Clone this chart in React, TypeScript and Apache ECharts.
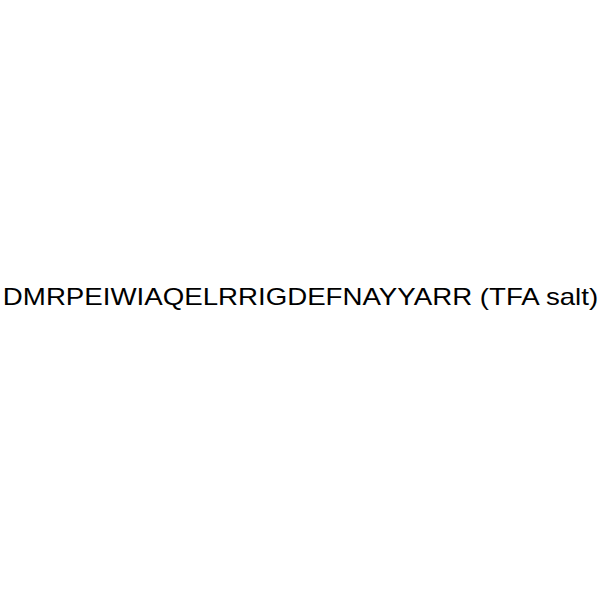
import React, { useEffect, useRef } from 'react'
import * as echarts from 'echarts'

const title = 'DMRPEIWIAQELRRIGDEFNAYYARR (TFA salt)'

const App: React.FC = () => {
  const chartRef = useRef<HTMLDivElement>(null)

  useEffect(() => {
    if (!chartRef.current) return
    document.body.style.margin = '0'
    const chart = echarts.init(chartRef.current, null, { renderer: 'svg' })

    const option: echarts.EChartsOption = {
      animation: false,
      backgroundColor: '#FFFFFF',
      graphic: [
        {
          type: 'text',
          x: 300.5,
          y: 297,
          scaleX: 1.153,
          style: {
            text: title,
            fill: '#000000',
            font: '24px "Liberation Sans", Arial, sans-serif',
            align: 'center',
            verticalAlign: 'middle'
          }
        }
      ]
    }

    chart.setOption(option)
    return () => {
      chart.dispose()
    }
  }, [])

  return <div ref={chartRef} style={{ width: '600px', height: '600px' }} />
}

export default App
